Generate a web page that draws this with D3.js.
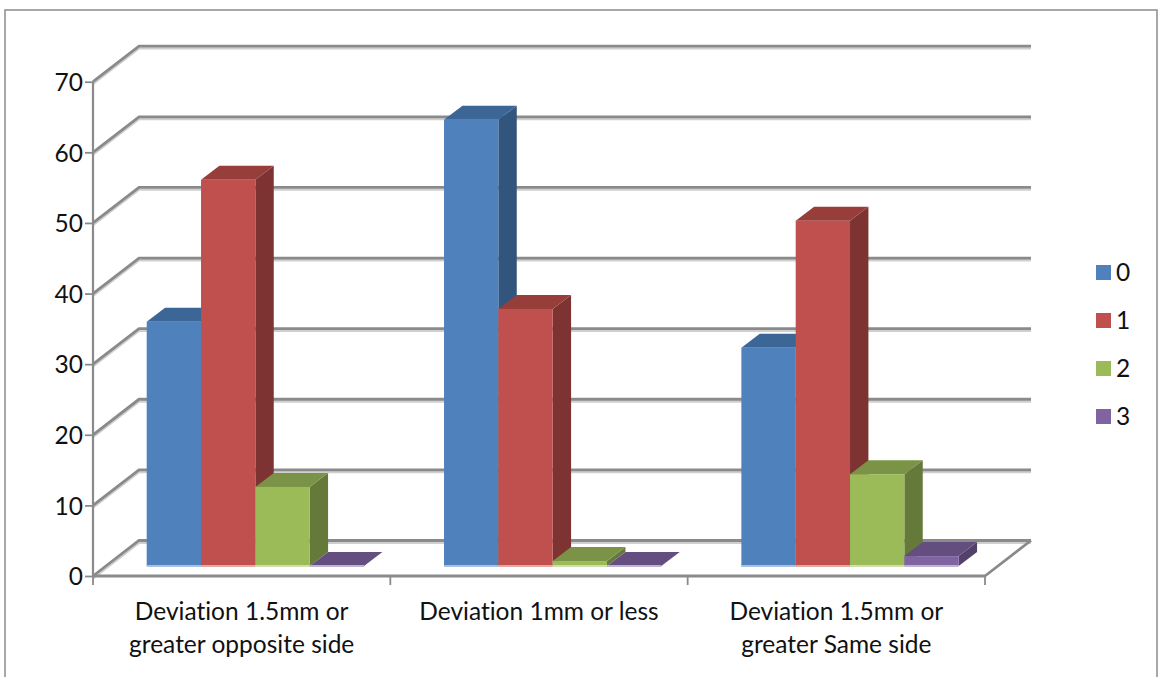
<!DOCTYPE html>
<html>
<head>
<meta charset="utf-8">
<script src="https://cdn.jsdelivr.net/npm/d3@7"></script>
<style>
body { margin: 0; background: white; }
text { font-family: Lato, "Open Sans", sans-serif; fill: #111; font-variant-ligatures: none; }
</style>
</head>
<body>
<svg id="chart" width="1159" height="677"></svg>
<script>
var categories = [["Deviation 1.5mm or", "greater opposite side"], ["Deviation 1mm or less"], ["Deviation 1.5mm or", "greater Same side"]];
var catKeys = ["opposite", "less", "same"];
var seriesNames = ["0", "1", "2", "3"];
var series0 = [34.6, 63.2, 30.9];
var series1 = [54.7, 36.4, 48.9];
var series2 = [11.2, 0.7, 13.0];
var series3 = [0, 0, 1.4];
var allSeries = [series0, series1, series2, series3];
var yTicks = [0, 10, 20, 30, 40, 50, 60, 70];

var front = ["#4f81bd", "#c0504d", "#9bbb59", "#8064a2"];
var topCol = ["#3b6695", "#973e3b", "#7a9346", "#644e80"];
var sideCol = ["#31557c", "#7d3331", "#657a3a", "#53416a"];
var baseCol = ["#a9c0de", "#e2a9a7", "#cfdeac", "#c0b2d1"];

var svg = d3.select("#chart");

// frame round the chart, its bottom edge is off the page
svg.append("path")
    .attr("d", "M5,690V10H1157V690")
    .attr("fill", "none")
    .attr("stroke", "#8c8c8c")
    .attr("stroke-width", 1.5);

var depthX = 46, depthY = -35.5;   // floor depth
var barDX = 18.4, barDY = -14;     // bar depth
var baseDrop = 10;                 // bars stand in from the front edge

var y = d3.scaleLinear().domain([0, 70]).range([576, 81.7]);
var x0 = d3.scaleBand().domain(catKeys).range([93, 985]);
var x1 = d3.scaleBand().domain(seriesNames).range([53.7, 271]);

var grid = svg.append("g");
yTicks.forEach(function(t) {
    var p = "M93," + y(t) + "l" + depthX + "," + depthY + "H" + (985 + depthX);
    grid.append("path").attr("d", p).attr("transform", "translate(0,2.2)")
        .attr("fill", "none").attr("stroke", "#cfcfcf").attr("stroke-width", 2.4);
    grid.append("path").attr("d", p)
        .attr("fill", "none").attr("stroke", "#8a8a8a").attr("stroke-width", 2.8);
});

// floor edges
grid.append("path")
    .attr("d", "M985," + y(0) + "L" + (985 + depthX) + "," + (y(0) + depthY))
    .attr("fill", "none").attr("stroke", "#8a8a8a").attr("stroke-width", 2.8);

// y axis
var axisY = d3.axisLeft(y).tickValues(yTicks).tickSize(8).tickPadding(2).tickFormat(d3.format("d"));
var gy = svg.append("g").attr("transform", "translate(93,0)").call(axisY);
gy.selectAll("line").attr("stroke", "#8a8a8a").attr("stroke-width", 1.8);
gy.select(".domain").attr("stroke", "#8a8a8a").attr("stroke-width", 2.2).attr("d", "M0," + y(70) + "V" + y(0));
gy.selectAll("text").attr("font-size", 24.5).attr("dy", "0.36em").style("font-family", "Lato, sans-serif").attr("fill", "#111");

// x axis
var gx = svg.append("g");
gx.append("line").attr("x1", 93).attr("x2", 985).attr("y1", y(0)).attr("y2", y(0))
    .attr("stroke", "#8a8a8a").attr("stroke-width", 2.8);
[93, x0("less"), x0("same"), 985].forEach(function(t) {
    gx.append("line").attr("x1", t).attr("x2", t).attr("y1", y(0)).attr("y2", y(0) + 9)
        .attr("stroke", "#8a8a8a").attr("stroke-width", 1.8);
});
catKeys.forEach(function(k, i) {
    var t = gx.append("text").attr("text-anchor", "middle").attr("font-size", 24.5);
    categories[i].forEach(function(line, j) {
        t.append("tspan").attr("x", x0(k) + x0.bandwidth() / 2).attr("y", 620 + j * 33).text(line);
    });
});

// bars, left to right since depth goes to the right
catKeys.forEach(function(k, c) {
    seriesNames.forEach(function(s, i) {
        var v = allSeries[i][c];
        var bx = x0(k) + x1(s);
        var w = x1.bandwidth();
        var by = y(0) - baseDrop;
        var h = v * (y(0) - y(1));
        var g = svg.append("g");
        // side
        g.append("path")
            .attr("d", "M" + (bx + w) + "," + (by - h) + "l" + barDX + "," + barDY + "v" + h + "l" + (-barDX) + "," + (-barDY) + "Z")
            .attr("fill", sideCol[i]);
        // top
        g.append("path")
            .attr("d", "M" + bx + "," + (by - h) + "l" + barDX + "," + barDY + "h" + w + "l" + (-barDX) + "," + (-barDY) + "Z")
            .attr("fill", topCol[i]);
        // front
        g.append("rect").attr("x", bx).attr("y", by - h).attr("width", w).attr("height", h)
            .attr("fill", front[i]);
        g.append("rect").attr("x", bx).attr("y", by - 1).attr("width", w).attr("height", 2)
            .attr("fill", baseCol[i]);
    });
});

// legend
var legY = d3.scalePoint().domain(seriesNames).range([272, 416]);
seriesNames.forEach(function(s, i) {
    svg.append("rect").attr("x", 1096).attr("y", legY(s) - 7).attr("width", 15).attr("height", 15).attr("fill", front[i]);
    svg.append("text").attr("x", 1116).attr("y", legY(s) + 9).attr("font-size", 24.5).text(s);
});
</script>
</body>
</html>
